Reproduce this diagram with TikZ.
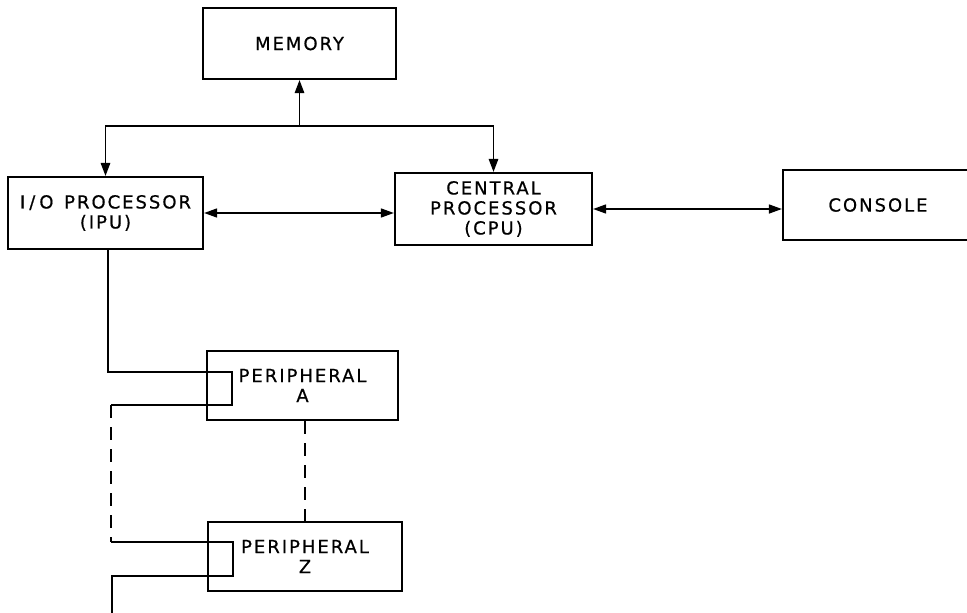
\documentclass[tikz,border=0pt]{standalone}
\usepackage{fontspec}
\setsansfont{DejaVu Sans}[LetterSpace=11,FakeBold=0.6]
\usetikzlibrary{arrows.meta,positioning,calc}

\begin{document}
\begin{tikzpicture}[x=1pt, y=-1pt,
    unit/.style={draw, line width=2.2pt, inner sep=0pt, align=center,
        font=\sffamily\fontsize{18}{20}\selectfont},
    bus/.style={line width=1.5pt},
    tip/.style={bus, {Triangle[length=13pt,width=9pt]}-{Triangle[length=13pt,width=9pt]}},
    totip/.style={bus, -{Triangle[length=13pt,width=9.5pt]}},
    chain/.style={bus, dash pattern=on 13pt off 9pt}]
    \useasboundingbox (0,0) rectangle (967,613);

    % Units
    \node[unit, minimum width=193pt, minimum height=71pt] (mem) at (299.5,43.5) {MEMORY};
    \node[unit, minimum width=195pt, minimum height=72pt] (iop) at (105.5,213) {I\hspace{4pt}/\hspace{4pt}O\hspace{3pt} PROCESSOR\\(IPU)};
    \node[unit, minimum width=197pt, minimum height=72pt] (cpu) at (493.5,209) {CENTRAL\\PROCESSOR\\(CPU)};
    \node[unit, minimum width=190pt, minimum height=70pt] (con) at (878,205) {CONSOLE};

    % Peripherals
    \node[unit, minimum width=191pt, minimum height=69pt] (pa) at (302.5,385.5) {PERIPHERAL\\A};
    \node[unit, minimum width=194pt, minimum height=69pt] (pz) at (305,556.5) {PERIPHERAL\\Z};

    % Memory bus
    \coordinate (tap) at (299.5,126);
    \draw[totip] (tap) -- (mem.south);
    \draw[totip] (tap) -| (iop.north);
    \draw[totip] (tap) -| (cpu.north);

    % Processor links
    \draw[tip] (iop.east) -- (iop.east -| cpu.west);
    \draw[tip] (cpu.east) -- (cpu.east -| con.west);

    % Peripheral chain
    \coordinate (out) at (108,250);
    \coordinate (ain) at (232,372);
    \coordinate (aout) at (111,405);
    \coordinate (zin) at (111,542);
    \coordinate (zout) at (233,576);
    \draw[bus] (out) |- (ain) |- (aout);
    \draw[chain] (aout) -- (zin);
    \draw[bus] (zin) -| (zout) -- (112,576) -- (112,613);
    \draw[chain] (pa.south -| pz.north) -- (pz.north);
\end{tikzpicture}
\end{document}
